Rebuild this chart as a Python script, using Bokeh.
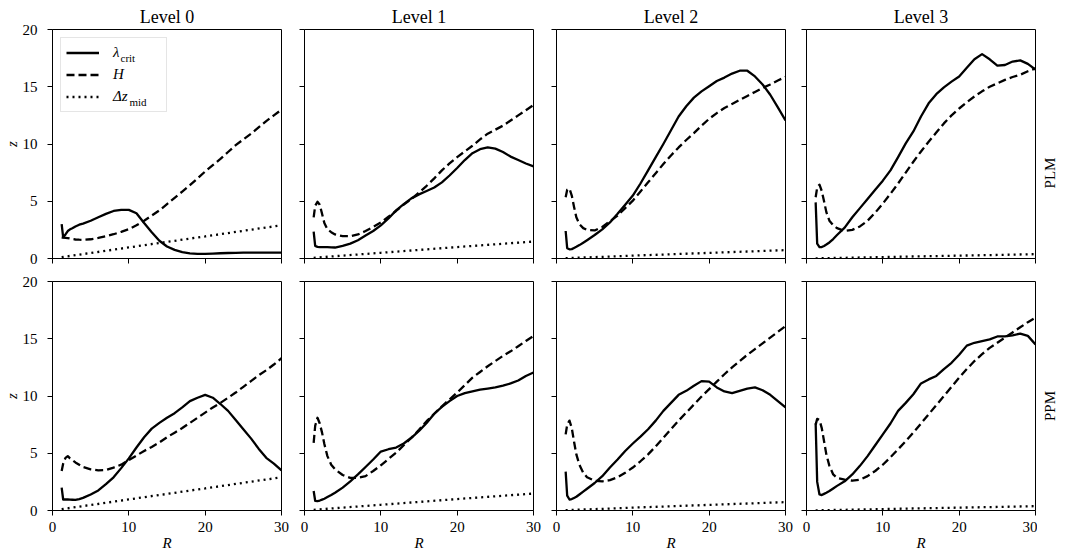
import math

from bokeh.plotting import figure
from bokeh.layouts import column, row
from bokeh.models import (Range1d, FixedTicker, Legend, LegendItem, Label,
                          CustomJSTickFormatter)
from bokeh.embed import file_html
from bokeh.resources import INLINE

# Radial sample points shared by the lambda_crit and H curves
R = [1.2, 1.4, 1.7, 2, 2.3, 2.6, 3, 3.5, 4, 5, 6, 7, 8, 9, 10, 11, 12, 13, 14,
     15, 16, 17, 18, 19, 20, 21, 22, 23, 24, 25, 26, 27, 28, 29, 30]
# Coarser sampling for the mid-layer thickness
R_DZ = [1.2, 5, 10, 15, 20, 25, 30]

levels = ["Level 0", "Level 1", "Level 2", "Level 3"]
schemes = ["PLM", "PPM"]
x_ticks = [0, 10, 20, 30]
y_ticks = [0, 5, 10, 15, 20]

# --- PLM ---
plm0_lam = [3.0, 1.85, 2.1, 2.4, 2.55, 2.65, 2.8, 2.95, 3.05, 3.3, 3.6, 3.9, 4.15, 4.25, 4.25,
            3.95, 3.1, 2.3, 1.55, 1.05, 0.75, 0.55, 0.45, 0.4, 0.4, 0.43, 0.46, 0.48, 0.5,
            0.52, 0.52, 0.52, 0.52, 0.52, 0.52]
plm0_h = [1.85, 1.82, 1.8, 1.78, 1.74, 1.7, 1.66, 1.64, 1.63, 1.68, 1.8, 1.95, 2.12, 2.33, 2.56,
          2.9, 3.3, 3.75, 4.2, 4.75, 5.3, 5.85, 6.4, 7.0, 7.6, 8.15, 8.7, 9.3, 9.9, 10.4, 10.9,
          11.45, 12.0, 12.5, 13.0]
plm1_lam = [2.35, 1.1, 1.02, 1.0, 1.0, 1.0, 1.0, 0.98, 0.96, 1.1, 1.3, 1.6, 2.0, 2.4, 2.9, 3.5,
            4.2, 4.75, 5.25, 5.6, 5.9, 6.2, 6.65, 7.25, 7.9, 8.6, 9.2, 9.55, 9.7, 9.6, 9.3, 8.9,
            8.6, 8.3, 8.05]
plm1_h = [3.6, 4.6, 4.95, 4.7, 3.9, 3.1, 2.55, 2.3, 2.1, 1.95, 1.95, 2.1, 2.4, 2.75, 3.15, 3.65,
          4.15, 4.7, 5.2, 5.75, 6.35, 7.0, 7.7, 8.3, 8.85, 9.35, 9.85, 10.4, 10.9, 11.25, 11.6,
          12.05, 12.5, 12.95, 13.4]
plm2_lam = [2.4, 0.9, 0.8, 0.82, 0.92, 1.02, 1.17, 1.38, 1.6, 2.05, 2.55, 3.15, 3.9, 4.7, 5.5,
            6.55, 7.7, 8.85, 10.0, 11.2, 12.4, 13.3, 14.05, 14.6, 15.05, 15.5, 15.8, 16.15,
            16.4, 16.4, 15.9, 15.2, 14.3, 13.2, 12.05]
plm2_h = [5.35, 6.0, 6.1, 5.5, 4.5, 3.6, 3.0, 2.65, 2.5, 2.45, 2.75, 3.25, 3.75, 4.4, 5.05, 5.85,
          6.65, 7.45, 8.25, 9.0, 9.7, 10.35, 10.95, 11.6, 12.2, 12.7, 13.15, 13.5, 13.85, 14.2,
          14.55, 14.9, 15.2, 15.55, 15.85]
plm3_lam = [4.9, 1.3, 1.0, 1.0, 1.1, 1.22, 1.4, 1.7, 2.05, 2.7, 3.6, 4.4, 5.2, 6.0, 6.8, 7.7,
            8.85, 10.05, 11.1, 12.4, 13.55, 14.35, 14.95, 15.45, 15.9, 16.65, 17.4, 17.85,
            17.4, 16.85, 16.9, 17.2, 17.3, 17.0, 16.5]
plm3_h = [5.35, 6.2, 6.45, 5.9, 5.0, 4.05, 3.3, 2.9, 2.65, 2.4, 2.5, 2.8, 3.3, 4.0, 4.8, 5.65,
          6.55, 7.5, 8.45, 9.35, 10.2, 11.0, 11.8, 12.5, 13.1, 13.65, 14.15, 14.6, 15.0, 15.3,
          15.6, 15.85, 16.05, 16.35, 16.6]

# --- PPM ---
ppm0_lam = [2.0, 0.96, 0.96, 0.96, 0.95, 0.94, 0.93, 1.0, 1.1, 1.4, 1.75, 2.3, 2.9, 3.7, 4.55,
            5.5, 6.4, 7.15, 7.65, 8.1, 8.5, 9.0, 9.55, 9.85, 10.1, 9.85, 9.3, 8.7, 7.9, 7.1,
            6.3, 5.4, 4.6, 4.1, 3.5]
ppm0_h = [3.45, 4.1, 4.6, 4.75, 4.55, 4.4, 4.2, 4.0, 3.8, 3.6, 3.5, 3.53, 3.75, 4.0, 4.4, 4.8,
          5.2, 5.55, 5.95, 6.4, 6.8, 7.2, 7.65, 8.1, 8.55, 9.0, 9.4, 9.85, 10.3, 10.8, 11.3,
          11.8, 12.25, 12.75, 13.3]
ppm1_lam = [1.7, 0.85, 0.82, 0.87, 0.95, 1.03, 1.17, 1.35, 1.55, 2.0, 2.55, 3.15, 3.8, 4.45,
            5.15, 5.35, 5.5, 5.85, 6.35, 6.95, 7.65, 8.45, 9.05, 9.55, 10.0, 10.25, 10.4,
            10.55, 10.65, 10.75, 10.9, 11.1, 11.35, 11.75, 12.05]
ppm1_h = [5.9, 7.4, 8.1, 7.6, 6.8, 5.8, 4.75, 4.0, 3.6, 3.1, 2.85, 2.85, 3.0, 3.45, 3.95, 4.5,
          5.05, 5.7, 6.35, 7.05, 7.8, 8.45, 9.1, 9.7, 10.3, 10.95, 11.6, 12.1, 12.6, 13.05,
          13.5, 13.9, 14.35, 14.8, 15.25]
ppm2_lam = [3.4, 1.3, 0.96, 1.0, 1.1, 1.2, 1.4, 1.65, 1.9, 2.4, 3.0, 3.75, 4.45, 5.2, 5.85,
            6.45, 7.1, 7.85, 8.7, 9.4, 10.1, 10.45, 10.9, 11.3, 11.25, 10.75, 10.4, 10.25,
            10.45, 10.65, 10.75, 10.5, 10.1, 9.55, 9.0]
ppm2_h = [6.65, 7.5, 7.85, 7.2, 6.0, 4.9, 4.0, 3.3, 2.9, 2.6, 2.55, 2.65, 2.9, 3.3, 3.75, 4.3,
          4.9, 5.6, 6.35, 7.1, 7.85, 8.55, 9.25, 9.95, 10.6, 11.25, 11.9, 12.5, 13.05, 13.6,
          14.1, 14.6, 15.1, 15.6, 16.1]
ppm3_lam = [7.6, 2.5, 1.4, 1.35, 1.45, 1.55, 1.7, 1.92, 2.15, 2.55, 3.15, 3.9, 4.75, 5.7, 6.65,
            7.6, 8.7, 9.4, 10.15, 11.1, 11.45, 11.75, 12.35, 12.9, 13.6, 14.4, 14.65, 14.8,
            14.95, 15.2, 15.2, 15.3, 15.45, 15.25, 14.5]
ppm3_h = [7.5, 8.0, 7.9, 7.2, 6.05, 4.9, 3.9, 3.15, 2.85, 2.7, 2.6, 2.7, 3.0, 3.45, 4.0, 4.65,
          5.35, 6.05, 6.8, 7.6, 8.4, 9.2, 10.0, 10.8, 11.6, 12.35, 13.05, 13.65, 14.2, 14.65,
          15.1, 15.55, 16.0, 16.45, 16.85]

# Mid-layer thickness per refinement level (same for both schemes)
dz0 = [0.12, 0.48, 0.97, 1.45, 1.93, 2.42, 2.9]
dz1 = [0.06, 0.25, 0.5, 0.75, 1.0, 1.24, 1.48]
dz2 = [0.03, 0.12, 0.25, 0.37, 0.49, 0.61, 0.73]
dz3 = [0.015, 0.06, 0.125, 0.19, 0.25, 0.31, 0.38]

lam_table = {"PLM": [plm0_lam, plm1_lam, plm2_lam, plm3_lam],
             "PPM": [ppm0_lam, ppm1_lam, ppm2_lam, ppm3_lam]}
h_table = {"PLM": [plm0_h, plm1_h, plm2_h, plm3_h],
           "PPM": [ppm0_h, ppm1_h, ppm2_h, ppm3_h]}
dz_table = [dz0, dz1, dz2, dz3]

FONT = "'Liberation Serif', serif"
FRAME = 229
LEFT_B = [52, 12, 12, 11]
RIGHT_B = [11, 11, 10, 2]
TOP_B = [29, 10]
BOTTOM_B = [13, 48]
SIDE_W = 28          # strip on the right that carries the scheme name
LW = 2.3

blank = CustomJSTickFormatter(code="return ''")


def style_axis(ax, show_labels, standoff):
    ax.major_tick_in = 0
    ax.major_tick_out = 5
    ax.minor_tick_in = 0
    ax.minor_tick_out = 0
    ax.major_tick_line_color = "black"
    ax.major_tick_line_width = 1
    ax.axis_line_color = "black"
    ax.axis_line_width = 1
    ax.major_label_text_font = FONT
    ax.major_label_text_color = "black"
    if show_labels:
        ax.major_label_text_font_size = "15px"
        ax.major_label_standoff = standoff
    else:
        # shared axis: keep the ticks, leave the numbers blank
        ax.formatter = blank
        ax.major_label_text_font_size = "6px"
        ax.major_label_standoff = 0
    ax.axis_label_text_font = FONT
    ax.axis_label_text_font_size = "15px"
    ax.axis_label_text_font_style = "italic"
    ax.axis_label_text_color = "black"


rows = []
for i, scheme in enumerate(schemes):
    figs = []
    row_h = TOP_B[i] + FRAME + BOTTOM_B[i]
    for j in range(4):
        kw = dict(
            frame_width=FRAME, frame_height=FRAME,
            x_range=Range1d(0, 30), y_range=Range1d(0, 20),
            output_backend="svg", toolbar_location=None,
            min_border_left=LEFT_B[j], min_border_right=RIGHT_B[j],
            min_border_top=TOP_B[i], min_border_bottom=BOTTOM_B[i],
            background_fill_color="white", border_fill_color="white",
            outline_line_color="black", outline_line_width=1,
        )
        if i == 0:
            kw["title"] = levels[j]
        p = figure(**kw)
        if i == 0:
            p.title.align = "center"
            p.title.text_font = FONT
            p.title.text_font_size = "18px"
            p.title.text_font_style = "normal"
            p.title.text_color = "black"
            p.title.standoff = 6
        p.xgrid.visible = False
        p.ygrid.visible = False

        p.xaxis.ticker = FixedTicker(ticks=x_ticks)
        p.yaxis.ticker = FixedTicker(ticks=y_ticks)
        style_axis(p.xaxis[0], show_labels=(i == 1), standoff=6)
        style_axis(p.yaxis[0], show_labels=(j == 0), standoff=10)
        if i == 1:
            p.xaxis.axis_label = "R"
            p.xaxis.axis_label_standoff = 0
        if j == 0:
            p.yaxis.axis_label = "z"
            p.yaxis.axis_label_standoff = 0

        r_lam = p.line(R, lam_table[scheme][j], line_color="black", line_width=LW,
                       line_join="round")
        r_h = p.line(R, h_table[scheme][j], line_color="black", line_width=LW,
                     line_dash="8 4", line_join="round")
        r_dz = p.line(R_DZ, dz_table[j], line_color="black", line_width=LW,
                      line_dash="2 4")

        if i == 0 and j == 0:
            legend = Legend(
                items=[LegendItem(label="λ", renderers=[r_lam]),
                       LegendItem(label="H", renderers=[r_h]),
                       LegendItem(label="Δz", renderers=[r_dz])],
                location=(8, 146), padding=5, spacing=3, margin=0,
                glyph_width=33, glyph_height=19, label_standoff=14, label_width=48,
                label_text_font=FONT, label_text_font_size="15px",
                label_text_font_style="italic", label_text_color="black",
                border_line_color="#cccccc", border_line_width=1,
                background_fill_color="white", background_fill_alpha=0,
            )
            p.add_layout(legend)
            for sub, sx, sy in (("crit", 68, 201), ("mid", 77, 157)):
                p.add_layout(Label(x=sx, y=sy, x_units="screen", y_units="screen",
                                   text=sub, text_font=FONT, text_font_size="11px",
                                   text_baseline="middle", text_color="black",
                                   level="overlay"))
        figs.append(p)

    # Narrow strip to the right holding the vertical scheme name
    side = figure(frame_width=SIDE_W, frame_height=row_h, x_axis_type=None,
                  y_axis_type=None, x_range=Range1d(0, 1), y_range=Range1d(0, 1),
                  output_backend="svg", toolbar_location=None,
                  min_border_left=0, min_border_right=0, min_border_top=0,
                  min_border_bottom=0, outline_line_color=None,
                  background_fill_color="white", border_fill_color="white")
    side.xgrid.visible = False
    side.ygrid.visible = False
    side.add_layout(Label(x=12, y=BOTTOM_B[i] + FRAME / 2, x_units="screen",
                          y_units="screen", text=scheme, angle=math.pi / 2,
                          text_align="center", text_baseline="middle",
                          text_font=FONT, text_font_size="15px", text_color="black"))
    figs.append(side)
    rows.append(row(*figs))

layout = column(*rows)
open("out.html", "w").write(file_html(layout, INLINE))
